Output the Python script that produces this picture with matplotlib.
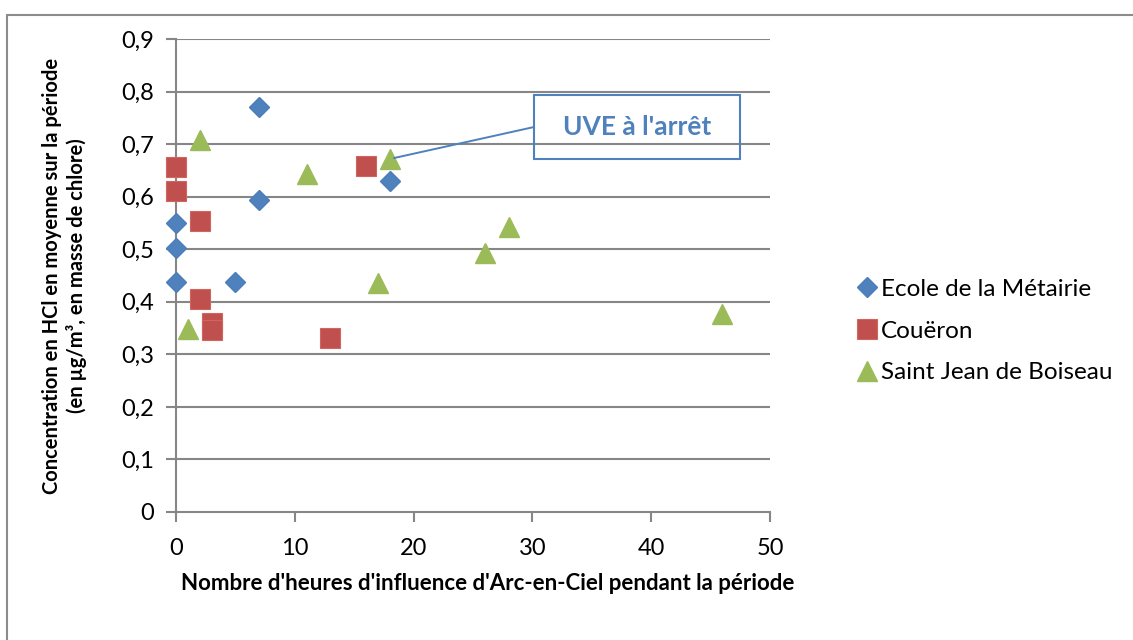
import matplotlib.pyplot as plt
from matplotlib.patches import Rectangle
from matplotlib.ticker import FuncFormatter

plt.rcParams['font.family'] = ['Lato', 'DejaVu Sans']

# Ecole de la Metairie
metairie_x = [0, 0, 0, 5, 7, 7, 18]
metairie_y = [0.55, 0.502, 0.437, 0.437, 0.77, 0.593, 0.63]

# Coueron
coueron_x = [0, 0, 2, 2, 3, 3, 13, 16]
coueron_y = [0.656, 0.611, 0.554, 0.405, 0.359, 0.346, 0.332, 0.659]

# Saint Jean de Boiseau
boiseau_x = [1, 2, 11, 17, 18, 26, 28, 46]
boiseau_y = [0.349, 0.708, 0.644, 0.435, 0.671, 0.493, 0.542, 0.376]

labels = ['Ecole de la Métairie', 'Couëron', 'Saint Jean de Boiseau']
x_ticks = [0, 10, 20, 30, 40, 50]
y_ticks = [0, 0.1, 0.2, 0.3, 0.4, 0.5, 0.6, 0.7, 0.8, 0.9]

note_text = "UVE à l'arrêt"
note_point = (18.35, 0.6735)
note_box = (30.13, 0.6716, 17.34, 0.1218)

W, H = 1133, 640
fig = plt.figure(figsize=(W / 100, H / 100), dpi=100)
ax = fig.add_axes([176 / W, 1 - 512 / H, (770 - 176) / W, (512 - 39) / H])

# outer chart frame
fig.patches.append(Rectangle((7 / W, -0.1), 1.2, 1 - 15 / H + 0.1, transform=fig.transFigure,
                             fill=False, edgecolor='#8c8c8c', linewidth=1.5))

grid_col = '#868686'
for yv in y_ticks[1:]:
    ax.axhline(yv, color=grid_col, linewidth=1.5, zorder=1)

ax.plot(metairie_x, metairie_y, 'D', ms=10, color='#4F81BD', mec='#4A7EBB', label=labels[0], zorder=3, clip_on=False)
ax.plot(coueron_x, coueron_y, 's', ms=14, color='#C0504D', mec='#D06560', mew=0.8, label=labels[1], zorder=3, clip_on=False)
ax.plot(boiseau_x, boiseau_y, '^', ms=14, color='#9BBB59', mec='#9BBB59', label=labels[2], zorder=3, clip_on=False)

ax.set_xlim(0, 50)
ax.set_ylim(0, 0.9)
ax.set_xticks(x_ticks)
ax.set_yticks(y_ticks)
ax.yaxis.set_major_formatter(FuncFormatter(lambda v, p: ('%g' % round(v, 1)).replace('.', ',')))
for s in ['top', 'right']:
    ax.spines[s].set_visible(False)
for s in ['left', 'bottom']:
    ax.spines[s].set_color(grid_col)
    ax.spines[s].set_linewidth(1.5)
ax.tick_params(axis='both', direction='out', length=7, width=1.5, color=grid_col, labelsize=17)
ax.tick_params(axis='x', pad=12)
ax.tick_params(axis='y', pad=9)

ax.set_xlabel("Nombre d'heures d'influence d'Arc-en-Ciel pendant la période",
              fontsize=16, fontweight='bold')
ax.xaxis.set_label_coords(0.524, -0.128)
ax.set_ylabel("Concentration en HCl en moyenne sur la période\n(en µg/m³, en masse de chlore)",
              fontsize=14.5, fontweight='bold', linespacing=1.2)
ax.yaxis.set_label_coords(-0.15, 0.5)

# annotation
bx, by, bw, bh = note_box
ax.add_patch(Rectangle((bx, by), bw, bh, fill=False, edgecolor='#4F81BD', linewidth=1.5, zorder=4, clip_on=False))
ax.annotate('', xy=note_point, xytext=(bx, by + bh / 2),
            arrowprops=dict(arrowstyle='-', color='#4F81BD', lw=1.4, shrinkA=0, shrinkB=0), zorder=4)
ax.text(bx + bw / 2, by + bh / 2, note_text, ha='center', va='center', fontsize=19,
        fontweight='bold', color='#4F81BD', zorder=5)

fig.legend(loc='center left', bbox_to_anchor=(852 / W, 1 - 331 / H), frameon=False,
           fontsize=17.5, handletextpad=0.0, labelspacing=0.85, handlelength=1.2,
           borderaxespad=0, borderpad=0)

fig.savefig('out.png', dpi=100)
